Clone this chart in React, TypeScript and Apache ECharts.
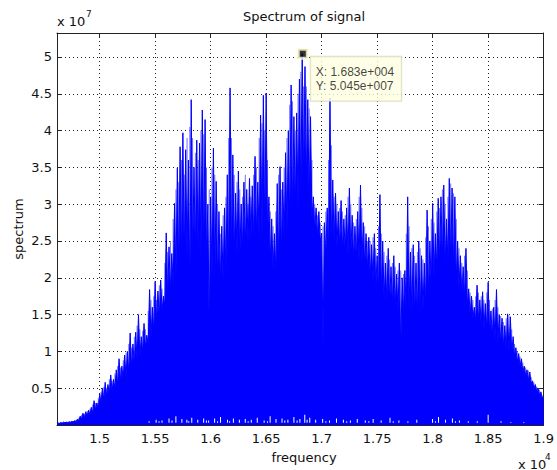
import React, { useEffect, useRef } from "react";
import * as echarts from "echarts";

// ---- axis ranges (x in units of 1e4 Hz, y in units of 1e7) ----
const X_MIN = 1.4616;
const X_MAX = 1.9;
const Y_MIN = 0;
const Y_MAX = 5.326;

const xTicks = [1.5, 1.55, 1.6, 1.65, 1.7, 1.75, 1.8, 1.85, 1.9];
const xTickLabels = ["1.5", "1.55", "1.6", "1.65", "1.7", "1.75", "1.8", "1.85", "1.9"];
const yTicks = [0.5, 1, 1.5, 2, 2.5, 3, 3.5, 4, 4.5, 5];
const yTickLabels = ["0.5", "1", "1.5", "2", "2.5", "3", "3.5", "4", "4.5", "5"];

// ---- spectrum: spike tops on a 0.0025 grid starting at 1.4625, and the level between spikes ----
const FREQ_START = 1.4625;
const FREQ_STEP = 0.0025;
const leftEdgeLevel = 0.02;

const spikeTop = [
  // 1.4625 .. 1.4975
  0.03, 0.035, 0.04, 0.04, 0.045, 0.05, 0.06, 0.08, 0.12, 0.16, 0.18, 0.2, 0.24, 0.33, 0.3,
  // 1.50 .. 1.5475
  0.42, 0.5, 0.58, 0.55, 0.68, 0.62, 0.75, 0.9, 0.8, 0.95, 1.0, 1.25, 1.1, 1.26, 1.5, 1.2, 1.38, 1.22, 1.84, 1.6,
  // 1.55 .. 1.5975
  1.95, 1.82, 1.97, 1.75, 2.61, 2.42, 2.33, 3.01, 3.49, 3.78, 3.97, 3.74, 3.6, 4.42, 3.5, 3.87, 3.83, 4.28, 4.15, 3.0,
  // 1.60 .. 1.6475
  3.1, 3.76, 3.31, 2.9, 2.7, 2.95, 3.4, 4.58, 3.67, 3.15, 3.45, 3.0, 3.3, 3.2, 3.35, 3.25, 3.65, 3.3, 4.21, 4.48,
  // 1.65 .. 1.6975
  4.51, 3.1, 2.8, 2.6, 3.28, 3.51, 3.3, 3.7, 4.0, 4.62, 4.19, 4.24, 4.7, 5.045, 4.87, 4.42, 4.19, 3.1, 2.95, 2.9,
  // 1.70 .. 1.7475
  2.6, 2.75, 2.95, 4.44, 3.33, 3.15, 2.9, 3.05, 2.8, 2.95, 3.22, 2.85, 2.7, 2.9, 3.26, 2.75, 2.6, 2.55, 2.45, 2.6,
  // 1.75 .. 1.7975
  2.3, 3.13, 2.5, 2.2, 2.4, 2.15, 2.3, 2.05, 2.2, 2.0, 2.1, 3.1, 2.35, 2.45, 2.2, 2.5, 2.3, 2.2, 2.92, 2.5,
  // 1.80 .. 1.8475
  3.01, 2.6, 3.08, 3.1, 3.26, 2.8, 3.35, 3.22, 3.1, 2.5, 2.3, 2.15, 2.4, 1.85, 1.75, 1.6, 1.9, 1.7, 1.81, 1.65,
  // 1.85 .. 1.8975
  1.94, 1.55, 1.6, 1.84, 1.5, 1.45, 1.35, 1.51, 1.47, 1.2, 1.05, 0.97, 0.9, 0.8, 0.75, 0.72, 0.6, 0.55, 0.5, 0.45,
  // 1.90
  0.36,
];

// level reached between spike i and spike i+1
const spikeFloor = [
  0.02, 0.025, 0.03, 0.03, 0.035, 0.04, 0.045, 0.06, 0.08, 0.1, 0.12, 0.14, 0.16, 0.2, 0.22,
  0.3, 0.34, 0.38, 0.42, 0.46, 0.5, 0.54, 0.58, 0.62, 0.66, 0.7, 0.76, 0.82, 0.88, 0.92, 0.98, 1.04, 1.1, 1.18, 1.26,
  1.38, 1.45, 1.55, 1.62, 1.7, 1.8, 1.9, 2.0, 2.08, 2.15, 2.2, 2.25, 1.75, 2.25, 2.3, 2.3, 2.25, 2.3, 2.2, 1.2,
  2.0, 1.95, 1.92, 1.9, 1.95, 2.05, 2.15, 2.25, 2.3, 2.3, 2.25, 2.35, 2.4, 2.45, 2.5, 2.5, 2.55, 2.5, 2.55, 2.6,
  2.55, 2.2, 2.1, 2.06, 2.15, 2.3, 2.5, 2.6, 2.7, 2.8, 2.9, 2.95, 3.1, 3.3, 3.25, 3.0, 2.8, 2.65, 2.55, 2.5,
  1.07, 2.3, 2.35, 2.4, 2.45, 2.4, 2.4, 2.35, 2.35, 2.3, 2.3, 2.25, 2.25, 2.2, 2.2, 2.15, 2.1, 2.0, 1.95, 1.85,
  1.8, 1.75, 1.7, 1.68, 1.65, 1.6, 1.6, 1.55, 1.0, 1.5, 1.5, 1.55, 1.5, 1.47, 1.45, 1.5, 1.55, 1.6, 1.7, 1.85,
  2.0, 2.1, 2.15, 2.2, 2.15, 2.2, 2.15, 2.05, 1.95, 1.85, 1.75, 1.7, 1.6, 1.5, 1.45, 1.4, 1.4, 1.35, 1.3, 1.28,
  1.25, 1.2, 1.15, 1.12, 1.1, 1.05, 1.02, 1.0, 0.97, 0.92, 0.85, 0.8, 0.72, 0.66, 0.6, 0.56, 0.5, 0.45, 0.4, 0.37,
];

// fainter secondary spikes, half-way between spike i and spike i+1
const midTop = [
  0.03, 0.035, 0.04, 0.045, 0.05, 0.055, 0.07, 0.1, 0.14, 0.15, 0.19, 0.22, 0.28, 0.3, 0.36,
  0.45, 0.52, 0.5, 0.62, 0.6, 0.7, 0.8, 0.78, 0.88, 0.98, 1.1, 1.05, 1.2, 1.35, 1.3, 1.28, 1.3, 1.55, 1.7, 1.75,
  1.7, 1.9, 1.85, 2.2, 2.35, 2.5, 2.8, 3.2, 3.3, 3.6, 3.4, 3.9, 4.05, 3.9, 3.7, 3.6, 4.0, 3.95, 3.5, 3.2,
  3.5, 3.4, 3.0, 2.6, 2.85, 3.1, 3.9, 3.9, 3.4, 3.3, 3.2, 3.1, 3.4, 3.0, 3.1, 3.4, 3.5, 3.9, 4.1, 4.0,
  3.6, 2.9, 2.7, 2.9, 3.4, 3.2, 3.5, 3.9, 4.35, 4.4, 4.0, 4.5, 4.8, 4.6, 4.6, 4.3, 3.6, 3.0, 2.85, 2.75,
  2.7, 2.9, 3.6, 3.8, 3.1, 3.0, 2.95, 2.9, 2.85, 3.1, 3.0, 2.75, 2.8, 3.1, 2.95, 2.7, 2.5, 2.5, 2.55, 2.4,
  2.7, 2.6, 2.35, 2.3, 2.25, 2.2, 2.15, 2.1, 2.1, 2.05, 2.6, 2.7, 2.4, 2.3, 2.35, 2.4, 2.25, 2.55, 2.7, 2.8,
  2.75, 2.9, 2.95, 3.2, 3.0, 3.1, 3.28, 3.15, 2.8, 2.4, 2.2, 2.3, 2.1, 1.8, 1.7, 1.75, 1.8, 1.75, 1.7, 1.8,
  1.7, 1.58, 1.7, 1.6, 1.48, 1.4, 1.45, 1.49, 1.3, 1.1, 1.0, 0.93, 0.85, 0.78, 0.74, 0.65, 0.58, 0.52, 0.48, 0.4,
];

// ---- small white gaps near the bottom of the filled spectrum ----
const GAP_FLOOR = 0.03;
const gapFreq = [
  1.5446, 1.5509, 1.5535, 1.5562, 1.5625, 1.5652, 1.5687, 1.5741, 1.5786, 1.5803, 1.583, 1.5884, 1.5937,
  1.5962, 1.5982, 1.6036, 1.6062, 1.6089, 1.6152, 1.6171, 1.6205, 1.6259, 1.6312, 1.6338, 1.6366, 1.642,
  1.6482, 1.6512, 1.6536, 1.6589, 1.6643, 1.6668, 1.6696, 1.675, 1.6779, 1.6804, 1.6848, 1.6869, 1.6893,
  1.6946, 1.7009, 1.7038, 1.7071, 1.7134, 1.7196, 1.7226, 1.7259, 1.7321, 1.7393, 1.7425, 1.7464, 1.7536,
  1.7616, 1.7645, 1.7696, 1.7777, 1.7857, 1.7999, 1.8025, 1.8053, 1.8116, 1.8178, 1.8205, 1.8241, 1.8321,
  1.8402, 1.85, 1.8616, 1.8705, 1.8821,
];
const gapTop = [
  0.05, 0.07, 0.05, 0.06, 0.09, 0.06, 0.12, 0.08, 0.07, 0.05, 0.1, 0.07, 0.09,
  0.06, 0.06, 0.09, 0.05, 0.11, 0.07, 0.05, 0.09, 0.07, 0.08, 0.05, 0.07, 0.1,
  0.06, 0.05, 0.12, 0.08, 0.09, 0.06, 0.07, 0.11, 0.06, 0.08, 0.14, 0.07, 0.1,
  0.07, 0.08, 0.05, 0.06, 0.09, 0.07, 0.05, 0.06, 0.08, 0.06, 0.05, 0.08, 0.06,
  0.1, 0.05, 0.06, 0.05, 0.07, 0.08, 0.05, 0.11, 0.07, 0.09, 0.05, 0.06, 0.05,
  0.05, 0.14, 0.05, 0.04, 0.04,
];

// ---- data tip ----
const tipFreq = 1.683; // x 1e4
const tipValue = 5.045; // x 1e7

function matlabExp(n: number): string {
  const e = Math.floor(Math.log10(n));
  const m = (n / Math.pow(10, e)).toFixed(3);
  return `${m}e+${String(e).padStart(3, "0")}`;
}

const AXIS_FONT = "DejaVu Sans";
const INK = "#111";
const BLUE = "#0000ff";
const SOFT_BLUE = "#6f6fff";

function labelFor(ticks: number[], labels: string[], v: number): string {
  const i = ticks.findIndex((t) => Math.abs(t - v) < 1e-6);
  return i >= 0 ? labels[i] : "";
}

export default function App() {
  const ref = useRef<HTMLDivElement>(null);

  useEffect(() => {
    if (!ref.current) return;
    const chart = echarts.init(ref.current, undefined, { renderer: "svg" });

    const specData: number[][] = [[X_MIN, leftEdgeLevel]];
    spikeTop.forEach((top, i) => {
      const f = FREQ_START + i * FREQ_STEP;
      specData.push([f, top]);
      if (i < spikeFloor.length) specData.push([f + FREQ_STEP / 2, spikeFloor[i]]);
    });

    const midData = midTop.map((v, i) => [FREQ_START + (i + 0.5) * FREQ_STEP, v]);
    const gapData = gapFreq.map((f, i) => [f, gapTop[i]]);

    const gridLine = { show: true, lineStyle: { color: "#222", width: 1, type: [1, 3] as any } };
    const axisLine = { show: true, onZero: false, lineStyle: { color: "#222", width: 1 } };
    const tick = { show: true, inside: true, length: 5, lineStyle: { color: "#222" } };

    const thinBar = (color: string, floor: number | null) => (_params: any, api: any) => {
      const top = api.coord([api.value(0), api.value(1)]);
      const bottom = api.coord([api.value(0), floor === null ? Y_MIN : floor]);
      return {
        type: "rect",
        shape: { x: top[0] - 0.5, y: top[1], width: 1, height: bottom[1] - top[1] },
        style: { fill: color },
      };
    };

    chart.setOption({
      animation: false,
      backgroundColor: "#fff",
      grid: { left: 57, top: 33, width: 491, height: 392, containLabel: false },
      xAxis: [
        {
          type: "value",
          min: X_MIN,
          max: X_MAX,
          axisLine,
          axisTick: { ...tick, customValues: xTicks },
          axisLabel: {
            customValues: xTicks,
            formatter: (v: number) => labelFor(xTicks, xTickLabels, v),
            fontFamily: AXIS_FONT,
            fontSize: 13,
            color: INK,
            margin: 7,
          },
          splitLine: gridLine,
        },
        {
          type: "value",
          position: "top",
          min: X_MIN,
          max: X_MAX,
          axisLine,
          axisTick: { ...tick, customValues: xTicks },
          axisLabel: { show: false },
          splitLine: { show: false },
        },
      ],
      yAxis: [
        {
          type: "value",
          min: Y_MIN,
          max: Y_MAX,
          axisLine,
          axisTick: { ...tick, customValues: yTicks },
          axisLabel: {
            customValues: yTicks,
            formatter: (v: number) => labelFor(yTicks, yTickLabels, v),
            fontFamily: AXIS_FONT,
            fontSize: 13,
            color: INK,
            margin: 5,
          },
          splitLine: gridLine,
        },
        {
          type: "value",
          position: "right",
          min: Y_MIN,
          max: Y_MAX,
          axisLine,
          axisTick: { ...tick, customValues: yTicks },
          axisLabel: { show: false },
          splitLine: { show: false },
        },
      ],
      series: [
        {
          type: "custom",
          name: "secondary spikes",
          data: midData,
          encode: { x: 0, y: 1 },
          renderItem: thinBar(SOFT_BLUE, null),
          z: 1,
        },
        {
          type: "line",
          name: "spectrum",
          data: specData,
          showSymbol: false,
          symbol: "none",
          lineStyle: { color: BLUE, width: 1 },
          areaStyle: { color: BLUE, opacity: 1 },
          itemStyle: { color: BLUE },
          z: 2,
        },
        {
          type: "custom",
          name: "gaps",
          data: gapData,
          encode: { x: 0, y: 1 },
          renderItem: thinBar("#ffffff", GAP_FLOOR),
          z: 3,
        },
        {
          type: "scatter",
          name: "datatip",
          data: [[tipFreq, tipValue]],
          symbol: "rect",
          symbolSize: 9,
          itemStyle: { color: "#000", borderColor: "#ffffd8", borderWidth: 3 },
          label: {
            show: true,
            position: [14, 9],
            align: "left",
            verticalAlign: "top",
            formatter: () =>
              `X: ${matlabExp(tipFreq * 1e4)}\nY: ${matlabExp(tipValue * 1e7)}`,
            fontFamily: "Liberation Sans",
            fontSize: 12,
            lineHeight: 14,
            color: "#111",
            backgroundColor: "#ffffe1",
            borderColor: "#d6d6b8",
            borderWidth: 1,
            padding: [8, 7, 8, 5],
          },
          z: 5,
        },
      ],
      graphic: [
        {
          type: "text",
          x: 304,
          y: 16,
          style: { text: "Spectrum of signal", fontFamily: AXIS_FONT, fontSize: 13, fill: INK, align: "center", verticalAlign: "middle" },
        },
        {
          type: "text",
          x: 57,
          y: 21,
          style: { text: "x 10", fontFamily: AXIS_FONT, fontSize: 13, fill: INK, align: "left", verticalAlign: "middle" },
        },
        {
          type: "text",
          x: 86,
          y: 14,
          style: { text: "7", fontFamily: AXIS_FONT, fontSize: 9, fill: INK, align: "left", verticalAlign: "middle" },
        },
        {
          type: "text",
          x: 304,
          y: 457,
          style: { text: "frequency", fontFamily: AXIS_FONT, fontSize: 13, fill: INK, align: "center", verticalAlign: "middle" },
        },
        {
          type: "text",
          x: 518,
          y: 464,
          style: { text: "x 10", fontFamily: AXIS_FONT, fontSize: 13, fill: INK, align: "left", verticalAlign: "middle" },
        },
        {
          type: "text",
          x: 545,
          y: 457,
          style: { text: "4", fontFamily: AXIS_FONT, fontSize: 9, fill: INK, align: "left", verticalAlign: "middle" },
        },
        {
          type: "text",
          x: 18,
          y: 229,
          rotation: Math.PI / 2,
          style: { text: "spectrum", fontFamily: AXIS_FONT, fontSize: 13, fill: INK, align: "center", verticalAlign: "middle" },
        },
      ],
    });

    return () => chart.dispose();
  }, []);

  return (
    <div
      ref={ref}
      style={{ position: "fixed", left: 0, top: 0, width: 557, height: 470, background: "#fff" }}
    />
  );
}
